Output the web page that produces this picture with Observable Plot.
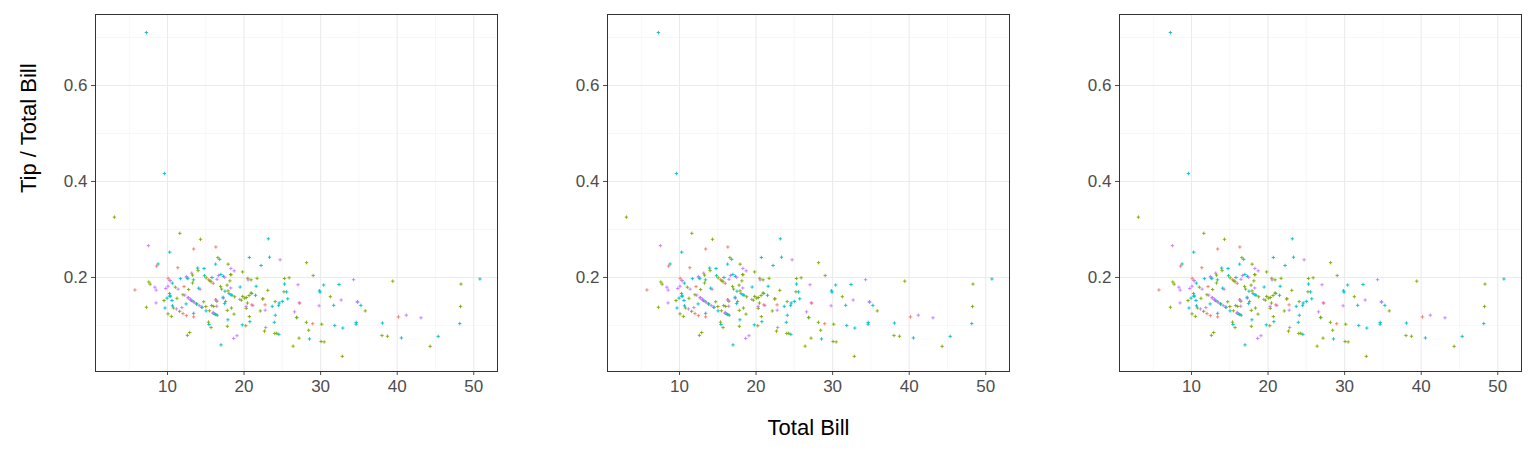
<!DOCTYPE html>
<html><head><meta charset="utf-8">
<script src="https://cdn.jsdelivr.net/npm/d3@7"></script>
<script src="https://cdn.jsdelivr.net/npm/@observablehq/plot@0.6"></script>
<style>body{margin:0;background:#fff;font-family:Arial,"Liberation Sans",sans-serif}#row{display:flex}</style>
</head><body><div id="row"></div>
<script>
const totalBill = [16.99,10.34,21.01,23.68,24.59,25.29,8.77,26.88,15.04,14.78,10.27,35.26,15.42,18.43,14.83,21.58,10.33,16.29,16.97,20.65,17.92,20.29,15.77,39.42,19.82,17.81,13.37,12.69,21.7,19.65,9.55,18.35,15.06,20.69,17.78,24.06,16.31,16.93,18.69,31.27,16.04,17.46,13.94,9.68,30.4,18.29,22.23,32.4,28.55,18.04,12.54,10.29,34.81,9.94,25.56,19.49,38.01,26.41,11.24,48.27,20.29,13.81,11.02,18.29,17.59,20.08,16.45,3.07,20.23,15.01,12.02,17.07,26.86,25.28,14.73,10.51,17.92,27.2,22.76,17.29,19.44,16.66,10.07,32.68,15.98,34.83,13.03,18.28,24.71,21.16,28.97,22.49,5.75,16.32,22.75,40.17,27.28,12.03,21.01,12.46,11.35,15.38,44.3,22.42,20.92,15.36,20.49,25.21,18.24,14.31,14,7.25,38.07,23.95,25.71,17.31,29.93,10.65,12.43,24.08,11.69,13.42,14.26,15.95,12.48,29.8,8.52,14.52,11.38,22.82,19.08,20.27,11.17,12.26,18.26,8.51,10.33,14.15,16,13.16,17.47,34.3,41.19,27.05,16.43,8.35,18.64,11.87,9.78,7.51,14.07,13.13,17.26,24.55,19.77,29.85,48.17,25,13.39,16.49,21.5,12.66,16.21,13.81,17.51,24.52,20.76,31.71,10.59,10.63,50.81,15.81,7.25,31.85,16.82,32.9,17.89,14.48,9.6,34.63,34.65,23.33,45.35,23.17,40.55,20.69,20.9,30.46,18.15,23.1,15.69,19.81,28.44,15.48,16.58,7.56,10.34,43.11,13,13.51,18.71,12.74,13,16.4,20.53,16.47,26.59,38.73,24.27,12.76,30.06,25.89,48.33,13.27,28.17,12.9,28.15,11.59,7.74,30.14,12.16,13.42,8.58,15.98,13.42,16.27,10.09,20.45,13.28,22.12,24.01,15.69,11.61,10.77,15.53,10.07,12.6,32.83,35.83,29.03,27.18,22.67,17.82,18.78];
const tip = [1.01,1.66,3.5,3.31,3.61,4.71,2,3.12,1.96,3.23,1.71,5,1.57,3,3.02,3.92,1.67,3.71,3.5,3.35,4.08,2.75,2.23,7.58,3.18,2.34,2,2,4.3,3,1.45,2.5,3,2.45,3.27,3.6,2,3.07,2.31,5,2.24,2.54,3.06,1.32,5.6,3,5,6,2.05,3,2.5,2.6,5.2,1.56,4.34,3.51,3,1.5,1.76,6.73,3.21,2,1.98,3.76,2.64,3.15,2.47,1,2.01,2.09,1.97,3,3.14,5,2.2,1.25,3.08,4,3,2.71,3,3.4,1.83,5,2.03,5.17,2,4,5.85,3,3,3.5,1,4.3,3.25,4.73,4,1.5,3,1.5,2.5,3,2.5,3.48,4.08,1.64,4.06,4.29,3.76,4,3,1,4,2.55,4,3.5,5.07,1.5,1.8,2.92,2.31,1.68,2.5,2,2.52,4.2,1.48,2,2,2.18,1.5,2.83,1.5,2,3.25,1.25,2,2,2,2.75,3.5,6.7,5,5,2.3,1.5,1.36,1.63,1.73,2,2.5,2,2.74,2,2,5.14,5,3.75,2.61,2,3.5,2.5,2,2,3,3.48,2.24,4.5,1.61,2,10,3.16,5.15,3.18,4,3.11,2,2,4,3.55,3.68,5.65,3.5,6.5,3,5,3.5,2,3.5,4,1.5,4.19,2.56,2.02,4,1.44,2,5,2,2,4,2.01,2,2.5,4,3.23,3.41,3,2.03,2.23,2,5.16,9,2.5,6.5,1.1,3,1.5,1.44,3.09,2.2,3.48,1.92,3,1.58,2.5,2,3,2.72,2.88,2,3,3.39,1.47,3,1.25,1,1.17,4.67,5.92,2,2,1.75,3];
const dayRuns = [["Sun",19],["Sat",22],["Sun",15],["Sat",21],["Thur",13],["Fri",12],["Sat",10],["Sun",10],["Thur",28],["Sun",36],["Sat",10],["Thur",11],["Sat",13],["Fri",7],["Sat",17]];
const dayNames = ["Fri","Sat","Sun","Thur"];
const dayColors = ["#F8766D","#7CAE00","#00BFC4","#C77CFF"];
const xTicks = [10,20,30,40,50], xMinor = [5,15,25,35,45];
const yTicks = [0.2,0.4,0.6], yMinor = [0.1,0.3,0.5,0.7];

const days = dayRuns.flatMap(([d, n]) => Array(n).fill(d));
const data = totalBill.map((b, i) => ({bill: b, ratio: tip[i] / b, day: days[i] || "Thur"}));

for (let p = 0; p < 3; p++) {
  const chart = Plot.plot({
    width: 512, height: 460,
    marginLeft: 95, marginRight: 15, marginTop: 14, marginBottom: 89,
    style: {fontFamily: "Arial, 'Liberation Sans', sans-serif", fontSize: "17px", color: "#4D4D4D"},
    x: {domain: [0.6, 53.1], ticks: xTicks, tickSize: 4, tickPadding: 4, label: null},
    y: {domain: [0.004, 0.748], ticks: yTicks, tickSize: 4, tickPadding: 4, tickFormat: d3.format(".1f"), label: null},
    color: {domain: dayNames, range: dayColors},
    marks: [
      Plot.ruleX(xMinor, {stroke: "#F2F2F2", strokeWidth: 0.6}),
      Plot.ruleY(yMinor, {stroke: "#F2F2F2", strokeWidth: 0.6}),
      Plot.ruleX(xTicks, {stroke: "#EBEBEB", strokeWidth: 1.1}),
      Plot.ruleY(yTicks, {stroke: "#EBEBEB", strokeWidth: 1.1}),
      Plot.dot(data, {x: "bill", y: "ratio", stroke: "day", symbol: "plus", r: 1.2, strokeWidth: 0.9}),
      Plot.frame({stroke: "#333", strokeWidth: 1}),
      p === 1 ? Plot.text(["Total Bill"], {frameAnchor: "bottom", dy: 63, fontSize: 22, fill: "black"}) : null,
      p === 0 ? Plot.text(["Tip / Total Bill"], {frameAnchor: "left", dx: -67, rotate: -90, fontSize: 22, fill: "black"}) : null
    ]
  });
  chart.style.overflow = "visible";
  document.getElementById("row").append(chart);
}
</script></body></html>
